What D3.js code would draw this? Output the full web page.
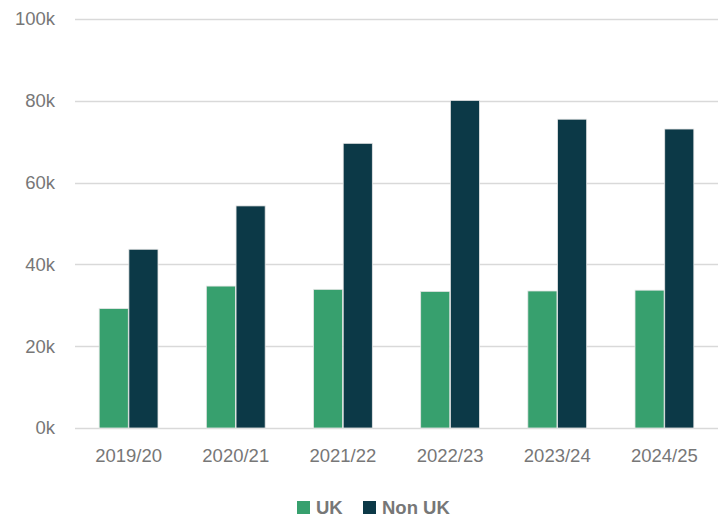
<!DOCTYPE html>
<html>
<head>
<meta charset="utf-8">
<script src="https://cdn.jsdelivr.net/npm/d3@7"></script>
<style>
  body { margin: 0; background: #fff; }
  svg { display: block; font-family: "Liberation Sans", Arial, sans-serif; }
</style>
</head>
<body>
<svg id="chart" width="723" height="520"></svg>
<script>
const width = 723;
const height = 520;
const margin = { top: 19, right: 5, bottom: 92, left: 75 };

const years = ["2019/20", "2020/21", "2021/22", "2022/23", "2023/24", "2024/25"];
const seriesNames = ["UK", "Non UK"];
const ukValues = [29200, 34700, 33900, 33400, 33500, 33700];
const nonUkValues = [43700, 54300, 69600, 80100, 75500, 73100];
const yTicks = [0, 20000, 40000, 60000, 80000, 100000];
const colors = ["#37a06e", "#0c3947"];

const svg = d3.select("#chart");
const chartWidth = width - margin.left - margin.right;
const chartHeight = height - margin.top - margin.bottom;

const g = svg.append("g")
  .attr("transform", `translate(${margin.left},${margin.top})`);

const x = d3.scaleBand()
  .domain(years)
  .range([0, chartWidth])
  .paddingInner(0.44)
  .paddingOuter(0.22);

const x1 = d3.scaleBand()
  .domain(seriesNames)
  .range([0, x.bandwidth()])
  .padding(0.02);

const y = d3.scaleLinear()
  .domain([0, 100000])
  .range([chartHeight, 0]);

// gridlines
g.append("g")
  .selectAll("line")
  .data(yTicks)
  .join("line")
  .attr("x1", 0)
  .attr("x2", chartWidth)
  .attr("y1", d => Math.round(y(d)) + 0.5)
  .attr("y2", d => Math.round(y(d)) + 0.5)
  .attr("stroke", "#d9d9d9")
  .attr("stroke-width", 1.5);

// y labels
g.append("g")
  .selectAll("text")
  .data(yTicks)
  .join("text")
  .attr("x", -20)
  .attr("y", d => y(d))
  .attr("dy", "0.35em")
  .attr("text-anchor", "end")
  .attr("fill", "#777")
  .attr("font-size", 18.5)
  .text(d => d3.format("d")(d / 1000) + "k");

// bars
const rows = years.map((yr, i) => ({ year: yr, values: [ukValues[i], nonUkValues[i]] }));

const groups = g.append("g")
  .selectAll("g")
  .data(rows)
  .join("g")
  .attr("transform", d => `translate(${x(d.year)},0)`);

groups.selectAll("rect")
  .data(d => d.values.map((v, i) => ({ key: seriesNames[i], value: v, idx: i })))
  .join("rect")
  .attr("x", d => x1(d.key))
  .attr("y", d => y(d.value))
  .attr("width", x1.bandwidth())
  .attr("height", d => chartHeight - y(d.value))
  .attr("fill", d => colors[d.idx])
  .attr("stroke", "#e6e6e6")
  .attr("stroke-width", 0.8);

// x labels
g.append("g")
  .selectAll("text")
  .data(years)
  .join("text")
  .attr("x", d => x(d) + x.bandwidth() / 2)
  .attr("y", chartHeight + 34)
  .attr("text-anchor", "middle")
  .attr("fill", "#777")
  .attr("font-size", 18.5)
  .text(d => d);

// legend
const legend = svg.append("g").attr("transform", "translate(297,501)");
const legendX = [0, 66];
seriesNames.forEach((name, i) => {
  const item = legend.append("g").attr("transform", `translate(${legendX[i]},0)`);
  item.append("rect")
    .attr("width", 13)
    .attr("height", 13)
    .attr("fill", colors[i]);
  item.append("text")
    .attr("x", 19)
    .attr("y", 6.5)
    .attr("dy", "0.36em")
    .attr("fill", "#777")
    .attr("font-size", 18.5)
    .attr("font-weight", "bold")
    .text(name);
});
</script>
</body>
</html>
